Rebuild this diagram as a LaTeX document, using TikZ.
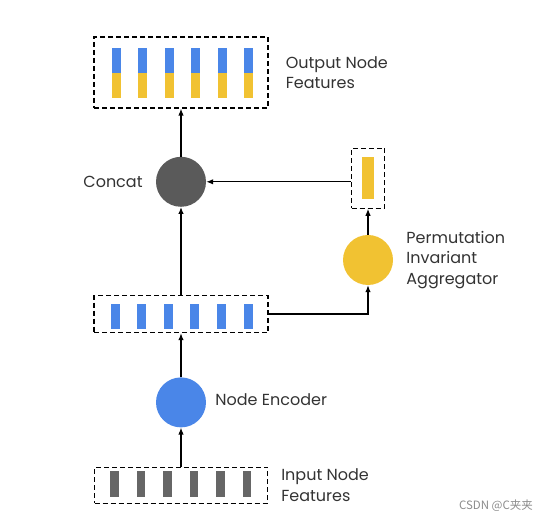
\documentclass[tikz,border=0pt]{standalone}
\usepackage{fontspec}
\setmainfont{Poppins}
\newfontfamily\cjkfont{Noto Sans CJK SC}
\usetikzlibrary{arrows.meta, positioning}
\definecolor{featblue}{HTML}{4A86E8}
\definecolor{featyellow}{HTML}{F1C232}
\definecolor{featgray}{HTML}{666666}
\definecolor{opgray}{HTML}{5A5A5A}

\begin{document}
\begin{tikzpicture}[x=1pt, y=1pt,
    featbox/.style={rectangle, draw=black, dash pattern=on 5pt off 3pt, line width=1.2pt, minimum width=174pt, inner sep=0pt},
    op/.style={circle, minimum size=50pt, inner sep=0pt},
    lbl/.style={align=left, inner sep=0pt, font=\fontsize{16}{20.5}\selectfont, text=black!80},
    bar/.style={rectangle, inner sep=0pt, minimum width=9pt, minimum height=25pt},
    arrow/.style={-{Latex[length=7pt, width=5.5pt]}, line width=1.2pt}
]
\useasboundingbox (0,0) rectangle (555,-521);

% Main column
\node[featbox, minimum height=71pt] (outbox) at (181,-72.5) {};
\node[op, fill=opgray, below=48pt of outbox] (concat) {};
\node[featbox, minimum height=37pt, below=88pt of concat] (midbox) {};
\node[op, fill=featblue, below=44pt of midbox] (enc) {};
\node[featbox, minimum height=36pt, minimum width=173pt, below=39pt of enc] (inbox) {};

% Aggregator branch
\node[op, fill=featyellow] (agg) at (368,-260) {};
\node[featbox, minimum width=33pt, minimum height=60pt, above=26pt of agg] (aggbox) {};
\node[bar, fill=featyellow, minimum width=12pt, minimum height=42pt] (aggbar) at (aggbox) {};

% Feature bars
\foreach \i in {0,...,5} {
  \node[bar, fill=featblue] (outtop\i) at ({116+26.5*\i},-60.5) {};
  \node[bar, fill=featyellow] (outbot\i) at ({116+26.5*\i},-85.5) {};
  \node[bar, fill=featblue] (midbar\i) at ({115+26.6*\i},-316.5) {};
  \node[bar, fill=featgray, minimum width=8.5pt, minimum height=26pt] (inbar\i) at ({114.5+26.5*\i},-484) {};
}

% Labels
\node[lbl, right=17pt of outbox] (outlbl) {Output Node\\Features};
\node[lbl, left=13pt of concat] (concatlbl) {Concat};
\node[lbl, right=13pt of agg] (agglbl) {Permutation\\Invariant\\Aggregator};
\node[lbl, right=9pt of enc, yshift=3pt] (enclbl) {Node Encoder};
\node[lbl, right=13pt of inbox] (inlbl) {Input Node\\Features};
\node[font=\cjkfont\fontsize{11.5}{13}\selectfont, text=black!45] (mark) at (496,-506) {CSDN @C夹夹};

% Arrows
\draw[arrow] (inbox.north) -- (enc.south);
\draw[arrow] (enc.north) -- (midbox.south);
\draw[arrow] (midbox.north) -- (concat.south);
\draw[arrow] (concat.north) -- (outbox.south);
\draw[arrow] (midbox.east) -| (agg.south);
\draw[arrow] (agg.north) -- (aggbox.south);
\draw[arrow] (aggbox.west |- concat) -- (concat.east);

\end{tikzpicture}
\end{document}
